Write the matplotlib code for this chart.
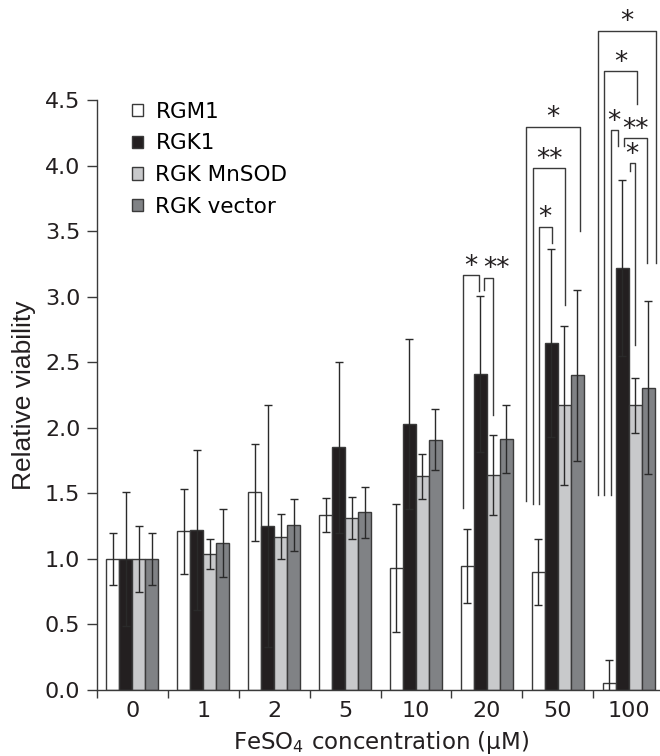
import matplotlib
matplotlib.use("Agg")
import matplotlib.pyplot as plt
from matplotlib.ticker import FixedLocator, NullFormatter

# FeSO4 concentrations (uM)
concentrations = ['0', '1', '2', '5', '10', '20', '50', '100']
series = ['RGM1', 'RGK1', 'RGK MnSOD', 'RGK vector']

rgm1 = [1.00, 1.21, 1.51, 1.335, 0.93, 0.945, 0.90, 0.05]
rgm1_err = [0.20, 0.325, 0.37, 0.13, 0.49, 0.285, 0.25, 0.18]
rgk1 = [1.00, 1.22, 1.25, 1.85, 2.03, 2.41, 2.645, 3.22]
rgk1_err = [0.51, 0.61, 0.92, 0.65, 0.65, 0.595, 0.715, 0.67]
mnsod = [1.00, 1.04, 1.17, 1.31, 1.63, 1.64, 2.17, 2.17]
mnsod_err = [0.25, 0.115, 0.17, 0.16, 0.17, 0.305, 0.61, 0.21]
vector = [1.00, 1.12, 1.26, 1.355, 1.91, 1.915, 2.40, 2.305]
vector_err = [0.20, 0.26, 0.20, 0.195, 0.235, 0.26, 0.65, 0.66]

# significance brackets: group, left x, right x (offsets in group), top, left leg end, right leg end, label
brackets = [
    (5, -0.342, -0.116, 3.163, 1.39, 3.04, '*'),
    (5, -0.037, 0.090, 3.145, 3.05, 2.10, '**'),
    (6, -0.449, 0.312, 4.295, 1.44, 3.50, '*'),
    (6, -0.346, 0.101, 3.98, 1.415, 2.94, '**'),
    (6, -0.262, -0.087, 3.535, 1.415, 3.41, '*'),
    (7, -0.438, 0.393, 5.03, 1.49, 3.26, '*'),
    (7, -0.345, 0.121, 4.72, 1.49, 4.47, '*'),
    (7, -0.250, -0.156, 4.27, 1.49, 4.15, '*'),
    (7, -0.067, 0.262, 4.21, 4.15, 3.26, '**'),
    (7, 0.018, 0.088, 4.02, 3.96, 2.63, '*'),
]
label_shift = {1: 0.11}  # "**" at 20 uM sits right of its bracket

colors = ['#ffffff', '#231f20', '#c8c9cb', '#808285']
values = [rgm1, rgk1, mnsod, vector]
errors = [rgm1_err, rgk1_err, mnsod_err, vector_err]

plt.rcParams['font.family'] = 'DejaVu Sans'
fig = plt.figure(figsize=(6.6, 7.56), dpi=100)
ax = fig.add_axes([97 / 660, 66 / 756, 567 / 660, 590 / 756])

w = 0.183
x = list(range(len(concentrations)))
handles = []
for k in range(4):
    pos = [i + (k - 1.5) * w for i in x]
    b = ax.bar(pos, values[k], width=w, color=colors[k], edgecolor='#3a3a3a', linewidth=1.0,
               yerr=errors[k], error_kw=dict(ecolor='#2a2a2a', elinewidth=1.0, capsize=3, capthick=1.0),
               label=series[k], zorder=2)
    handles.append(b)

line_kw = dict(color='#3a3a3a', lw=1.0, clip_on=False, zorder=3)
for n, (g, xl, xr, top, yl, yr, lab) in enumerate(brackets):
    ax.plot([g + xl, g + xl, g + xr, g + xr], [yl, top, top, yr], **line_kw)
    xc = g + (xl + xr) / 2 + label_shift.get(n, 0)
    ax.annotate(lab, (xc, top), xytext=(0, 1), textcoords='offset points',
                ha='center', va='baseline', fontsize=19, color='#231f20', annotation_clip=False)

ax.set_xlim(-0.5, 7.5)
ax.set_ylim(0, 4.5)
ax.set_xticks(x)
ax.set_xticklabels(concentrations, fontsize=16, color='#231f20')
ax.tick_params(axis='x', which='major', length=0, pad=8)
ax.xaxis.set_minor_locator(FixedLocator([i - 0.5 for i in x]))
ax.xaxis.set_minor_formatter(NullFormatter())
ax.tick_params(axis='x', which='minor', length=6, width=1.0, color='#3a3a3a')
ax.set_yticks([0, 0.5, 1.0, 1.5, 2.0, 2.5, 3.0, 3.5, 4.0, 4.5])
ax.set_yticklabels(['%.1f' % v for v in ax.get_yticks()], fontsize=16, color='#231f20')
ax.tick_params(axis='y', length=7, width=1.0, color='#3a3a3a', pad=5)

for s in ['top', 'right']:
    ax.spines[s].set_visible(False)
for s in ['left', 'bottom']:
    ax.spines[s].set_color('#3a3a3a')
    ax.spines[s].set_linewidth(1.0)

ax.set_xlabel('FeSO$_4$ concentration (μM)', fontsize=16.5, color='#231f20', labelpad=6)
ax.set_ylabel('Relative viability', fontsize=19, family='Liberation Sans', color='#231f20', labelpad=6)

ax.legend(handles=handles, loc='upper left', bbox_to_anchor=(121 / 660, 1 - 91 / 756),
          bbox_transform=fig.transFigure, frameon=False, fontsize=15.5, handlelength=0.5,
          handleheight=0.5, handletextpad=0.6, labelspacing=0.54, borderpad=0)

fig.savefig('out.png', dpi=100)
